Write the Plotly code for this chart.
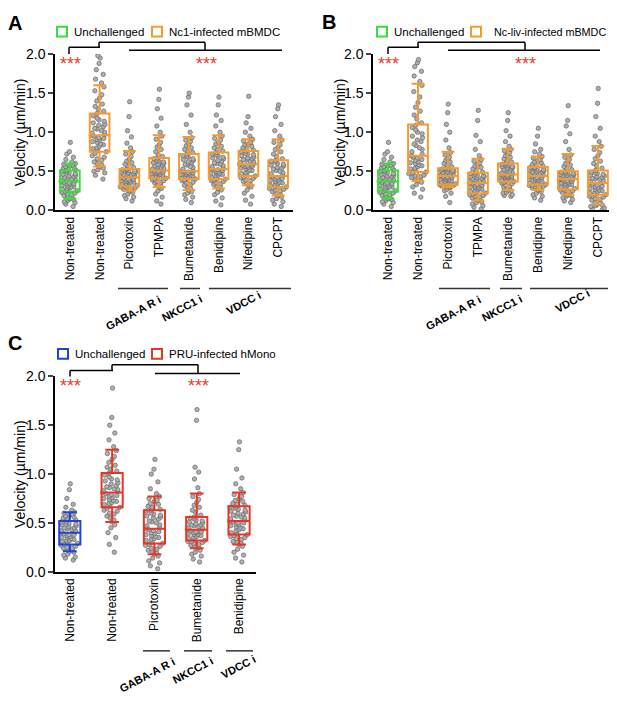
import plotly.graph_objects as go

# the page keeps an 8px body margin, so the figure is 16px smaller than the window
PAGE_W, PAGE_H, PAD = 617, 702, 8
W, H = PAGE_W - 2 * PAD, PAGE_H - 2 * PAD
FONT = "Arial, Liberation Sans, sans-serif"

GREEN = "#35e035"
ORANGE = "#f59a2d"
BLUE = "#1f44dd"
RED = "#ec3424"
STAR = "#e8402c"

### category labels
a_labels = ["Non-treated", "Non-treated", "Picrotoxin", "TPMPA", "Bumetanide",
            "Benidipine", "Nifedipine", "CPCPT"]
b_labels = a_labels
c_labels = ["Non-treated", "Non-treated", "Picrotoxin", "Bumetanide", "Benidipine"]

### box stats (lower whisker, q1, median, q3, upper whisker)
a_lo = [0.15, 0.56, 0.25, 0.30, 0.26, 0.28, 0.32, 0.19]
a_q1 = [0.24, 0.75, 0.31, 0.41, 0.40, 0.40, 0.44, 0.30]
a_med = [0.37, 0.96, 0.42, 0.51, 0.50, 0.53, 0.59, 0.44]
a_q3 = [0.51, 1.24, 0.53, 0.67, 0.72, 0.74, 0.76, 0.64]
a_hi = [0.60, 1.60, 0.76, 0.96, 0.94, 0.96, 0.91, 0.91]

b_lo = [0.15, 0.375, 0.30, 0.125, 0.26, 0.26, 0.20, 0.08]
b_q1 = [0.24, 0.49, 0.33, 0.22, 0.37, 0.33, 0.27, 0.20]
b_med = [0.37, 0.70, 0.44, 0.35, 0.46, 0.44, 0.40, 0.35]
b_q3 = [0.51, 1.10, 0.54, 0.48, 0.60, 0.555, 0.50, 0.51]
b_hi = [0.60, 1.62, 0.75, 0.66, 0.79, 0.69, 0.72, 0.825]

c_lo = [0.21, 0.51, 0.18, 0.24, 0.28]
c_q1 = [0.28, 0.66, 0.29, 0.32, 0.38]
c_med = [0.40, 0.81, 0.44, 0.43, 0.52]
c_q3 = [0.52, 1.01, 0.63, 0.56, 0.67]
c_hi = [0.61, 1.25, 0.77, 0.80, 0.81]

### single cell velocities (um/min), estimated from the dots
unch_mbmdc = [0.05, 0.08, 0.10, 0.11, 0.13, 0.14, 0.15, 0.16, 0.18, 0.19, 0.20, 0.21, 0.22, 0.23, 0.24,
              0.25, 0.26, 0.27, 0.28, 0.29, 0.30, 0.30, 0.31, 0.32, 0.33, 0.34, 0.34, 0.35, 0.36, 0.37,
              0.38, 0.39, 0.40, 0.40, 0.41, 0.42, 0.43, 0.44, 0.45, 0.46, 0.47, 0.48, 0.49, 0.50, 0.51,
              0.52, 0.53, 0.54, 0.55, 0.56, 0.57, 0.58, 0.59, 0.60, 0.62, 0.65, 0.68, 0.72, 0.75, 0.87]

nc1_nontreated = [0.40, 0.45, 0.48, 0.50, 0.52, 0.54, 0.56, 0.58, 0.60, 0.62, 0.64, 0.66, 0.68, 0.70, 0.73,
                  0.75, 0.77, 0.79, 0.80, 0.82, 0.84, 0.85, 0.87, 0.88, 0.90, 0.91, 0.92, 0.93, 0.95, 0.96,
                  0.97, 0.99, 1.00, 1.02, 1.04, 1.05, 1.07, 1.09, 1.10, 1.12, 1.14, 1.16, 1.18, 1.21, 1.24,
                  1.27, 1.30, 1.33, 1.36, 1.40, 1.44, 1.48, 1.53, 1.58, 1.63, 1.68, 1.74, 1.80, 1.88, 1.95, 1.98]
nc1_picrotoxin = [0.12, 0.15, 0.17, 0.19, 0.21, 0.23, 0.25, 0.26, 0.27, 0.27, 0.28, 0.29, 0.29, 0.30, 0.31,
                  0.32, 0.33, 0.33, 0.34, 0.35, 0.36, 0.36, 0.37, 0.38, 0.38, 0.39, 0.40, 0.40, 0.41, 0.42,
                  0.43, 0.44, 0.44, 0.45, 0.46, 0.46, 0.47, 0.48, 0.49, 0.49, 0.50, 0.51, 0.52, 0.52, 0.53,
                  0.55, 0.57, 0.59, 0.61, 0.63, 0.66, 0.69, 0.72, 0.75, 0.80, 0.86, 0.94, 1.02, 1.20, 1.39]
nc1_tpmpa = [0.08, 0.12, 0.17, 0.21, 0.25, 0.28, 0.30, 0.32, 0.33, 0.35, 0.36, 0.37, 0.38, 0.39, 0.40,
             0.41, 0.42, 0.43, 0.44, 0.45, 0.45, 0.46, 0.47, 0.47, 0.48, 0.49, 0.49, 0.50, 0.50, 0.51,
             0.52, 0.53, 0.54, 0.55, 0.56, 0.57, 0.58, 0.59, 0.60, 0.61, 0.62, 0.63, 0.64, 0.66, 0.67,
             0.69, 0.72, 0.75, 0.78, 0.81, 0.84, 0.87, 0.91, 0.95, 1.00, 1.08, 1.18, 1.30, 1.42, 1.55]
nc1_bumetanide = [0.10, 0.14, 0.17, 0.20, 0.22, 0.24, 0.26, 0.28, 0.30, 0.32, 0.33, 0.35, 0.36, 0.38, 0.39,
                  0.40, 0.41, 0.42, 0.43, 0.43, 0.44, 0.45, 0.46, 0.46, 0.47, 0.48, 0.48, 0.49, 0.50, 0.50,
                  0.51, 0.53, 0.55, 0.56, 0.58, 0.59, 0.61, 0.62, 0.64, 0.65, 0.66, 0.68, 0.69, 0.70, 0.72,
                  0.74, 0.76, 0.78, 0.80, 0.83, 0.85, 0.88, 0.90, 0.93, 1.00, 1.10, 1.22, 1.35, 1.45, 1.50]
nc1_benidipine = [0.07, 0.12, 0.16, 0.20, 0.23, 0.26, 0.28, 0.30, 0.31, 0.33, 0.34, 0.35, 0.37, 0.38, 0.39,
                  0.40, 0.41, 0.42, 0.44, 0.45, 0.46, 0.47, 0.48, 0.48, 0.49, 0.50, 0.51, 0.52, 0.52, 0.53,
                  0.54, 0.56, 0.57, 0.59, 0.60, 0.61, 0.63, 0.64, 0.66, 0.67, 0.68, 0.70, 0.71, 0.72, 0.74,
                  0.76, 0.78, 0.80, 0.82, 0.85, 0.87, 0.90, 0.92, 0.95, 1.00, 1.08, 1.15, 1.22, 1.35, 1.45]
nc1_nifedipine = [0.08, 0.13, 0.18, 0.22, 0.26, 0.30, 0.32, 0.34, 0.35, 0.37, 0.38, 0.39, 0.41, 0.42, 0.43,
                  0.44, 0.46, 0.47, 0.48, 0.50, 0.51, 0.52, 0.53, 0.54, 0.55, 0.56, 0.57, 0.57, 0.58, 0.59,
                  0.60, 0.61, 0.62, 0.63, 0.64, 0.65, 0.66, 0.67, 0.68, 0.70, 0.71, 0.72, 0.73, 0.75, 0.76,
                  0.77, 0.79, 0.80, 0.82, 0.84, 0.85, 0.87, 0.89, 0.91, 0.95, 1.00, 1.05, 1.12, 1.20, 1.46]
nc1_cpcpt = [0.05, 0.08, 0.11, 0.13, 0.15, 0.17, 0.19, 0.21, 0.22, 0.24, 0.25, 0.26, 0.27, 0.28, 0.29,
             0.30, 0.31, 0.32, 0.33, 0.34, 0.35, 0.36, 0.37, 0.38, 0.39, 0.40, 0.41, 0.42, 0.43, 0.44,
             0.45, 0.47, 0.48, 0.50, 0.51, 0.53, 0.54, 0.55, 0.57, 0.58, 0.59, 0.60, 0.62, 0.63, 0.64,
             0.66, 0.69, 0.72, 0.75, 0.78, 0.81, 0.84, 0.87, 0.90, 0.95, 1.02, 1.10, 1.20, 1.30, 1.35]

ncliv_nontreated = [0.17, 0.22, 0.27, 0.30, 0.33, 0.36, 0.38, 0.40, 0.41, 0.42, 0.43, 0.44, 0.45, 0.47, 0.48,
                    0.49, 0.51, 0.53, 0.54, 0.56, 0.57, 0.58, 0.60, 0.61, 0.62, 0.64, 0.65, 0.67, 0.68, 0.70,
                    0.72, 0.75, 0.78, 0.80, 0.83, 0.85, 0.88, 0.90, 0.93, 0.95, 0.98, 1.00, 1.03, 1.06, 1.09,
                    1.12, 1.17, 1.22, 1.27, 1.32, 1.38, 1.45, 1.52, 1.60, 1.65, 1.72, 1.78, 1.84, 1.89, 1.93]
ncliv_picrotoxin = [0.10, 0.18, 0.22, 0.25, 0.27, 0.29, 0.30, 0.30, 0.31, 0.31, 0.32, 0.32, 0.32, 0.33, 0.33,
                    0.34, 0.35, 0.36, 0.37, 0.38, 0.38, 0.39, 0.40, 0.40, 0.41, 0.42, 0.42, 0.43, 0.43, 0.44,
                    0.45, 0.45, 0.46, 0.47, 0.47, 0.48, 0.49, 0.49, 0.50, 0.51, 0.51, 0.52, 0.53, 0.53, 0.54,
                    0.56, 0.58, 0.60, 0.62, 0.64, 0.66, 0.68, 0.71, 0.74, 0.80, 0.90, 1.00, 1.10, 1.25, 1.36]
ncliv_tpmpa = [0.02, 0.04, 0.06, 0.08, 0.10, 0.11, 0.13, 0.14, 0.15, 0.16, 0.17, 0.18, 0.19, 0.20, 0.21,
               0.22, 0.23, 0.24, 0.25, 0.26, 0.27, 0.28, 0.29, 0.30, 0.30, 0.31, 0.32, 0.33, 0.34, 0.35,
               0.36, 0.37, 0.38, 0.38, 0.39, 0.40, 0.41, 0.42, 0.43, 0.43, 0.44, 0.45, 0.46, 0.47, 0.48,
               0.49, 0.51, 0.53, 0.55, 0.57, 0.59, 0.61, 0.63, 0.65, 0.70, 0.78, 0.88, 0.96, 1.15, 1.28]
ncliv_bumetanide = [0.18, 0.19, 0.20, 0.22, 0.23, 0.25, 0.26, 0.28, 0.29, 0.30, 0.31, 0.32, 0.34, 0.35, 0.36,
                    0.37, 0.38, 0.39, 0.40, 0.40, 0.41, 0.42, 0.42, 0.43, 0.43, 0.44, 0.44, 0.45, 0.45, 0.46,
                    0.47, 0.48, 0.49, 0.50, 0.51, 0.52, 0.53, 0.54, 0.55, 0.56, 0.56, 0.57, 0.58, 0.59, 0.60,
                    0.62, 0.64, 0.66, 0.68, 0.70, 0.72, 0.74, 0.76, 0.78, 0.82, 0.88, 0.95, 1.02, 1.15, 1.25]
ncliv_benidipine = [0.13, 0.16, 0.18, 0.20, 0.22, 0.24, 0.26, 0.27, 0.28, 0.29, 0.29, 0.30, 0.31, 0.32, 0.32,
                    0.33, 0.34, 0.35, 0.36, 0.36, 0.37, 0.38, 0.39, 0.40, 0.40, 0.41, 0.42, 0.42, 0.43, 0.44,
                    0.45, 0.46, 0.46, 0.47, 0.48, 0.49, 0.49, 0.50, 0.51, 0.52, 0.52, 0.53, 0.54, 0.55, 0.55,
                    0.57, 0.58, 0.59, 0.61, 0.62, 0.64, 0.65, 0.67, 0.69, 0.72, 0.75, 0.78, 0.85, 0.95, 1.05]
ncliv_nifedipine = [0.10, 0.12, 0.14, 0.16, 0.18, 0.19, 0.20, 0.21, 0.22, 0.23, 0.24, 0.25, 0.25, 0.26, 0.27,
                    0.28, 0.29, 0.30, 0.31, 0.32, 0.33, 0.34, 0.34, 0.35, 0.36, 0.37, 0.37, 0.38, 0.39, 0.40,
                    0.40, 0.41, 0.42, 0.42, 0.43, 0.44, 0.44, 0.45, 0.46, 0.46, 0.47, 0.48, 0.48, 0.49, 0.50,
                    0.52, 0.54, 0.56, 0.58, 0.60, 0.63, 0.65, 0.68, 0.71, 0.78, 0.88, 0.98, 1.08, 1.15, 1.34]
ncliv_cpcpt = [0.01, 0.02, 0.03, 0.05, 0.06, 0.07, 0.08, 0.10, 0.11, 0.13, 0.14, 0.15, 0.17, 0.18, 0.19,
               0.20, 0.21, 0.22, 0.23, 0.24, 0.25, 0.26, 0.27, 0.28, 0.29, 0.30, 0.31, 0.32, 0.33, 0.35,
               0.36, 0.37, 0.38, 0.39, 0.40, 0.41, 0.42, 0.43, 0.44, 0.45, 0.46, 0.47, 0.48, 0.49, 0.51,
               0.54, 0.57, 0.60, 0.63, 0.66, 0.70, 0.74, 0.78, 0.82, 0.88, 0.95, 1.05, 1.20, 1.37, 1.56]

unch_hmono = [0.12, 0.14, 0.15, 0.17, 0.18, 0.20, 0.21, 0.22, 0.23, 0.24, 0.24, 0.25, 0.26, 0.27, 0.28,
              0.29, 0.30, 0.31, 0.32, 0.32, 0.33, 0.34, 0.35, 0.35, 0.36, 0.37, 0.38, 0.38, 0.39, 0.40,
              0.41, 0.42, 0.42, 0.43, 0.44, 0.45, 0.45, 0.46, 0.47, 0.48, 0.49, 0.49, 0.50, 0.51, 0.52,
              0.53, 0.54, 0.55, 0.56, 0.57, 0.58, 0.59, 0.60, 0.61, 0.63, 0.66, 0.69, 0.75, 0.84, 0.90]
pru_nontreated = [0.20, 0.28, 0.35, 0.40, 0.45, 0.48, 0.51, 0.53, 0.55, 0.57, 0.59, 0.60, 0.62, 0.63, 0.65,
                  0.66, 0.67, 0.69, 0.70, 0.71, 0.72, 0.73, 0.74, 0.75, 0.76, 0.77, 0.78, 0.79, 0.80, 0.81,
                  0.82, 0.83, 0.84, 0.85, 0.86, 0.87, 0.88, 0.90, 0.91, 0.93, 0.94, 0.95, 0.97, 0.99, 1.01,
                  1.03, 1.05, 1.07, 1.09, 1.12, 1.15, 1.18, 1.21, 1.24, 1.28, 1.35, 1.42, 1.50, 1.58, 1.88]
pru_picrotoxin = [0.03, 0.06, 0.09, 0.11, 0.14, 0.16, 0.18, 0.19, 0.21, 0.22, 0.23, 0.24, 0.26, 0.27, 0.28,
                  0.29, 0.30, 0.32, 0.33, 0.34, 0.35, 0.36, 0.37, 0.38, 0.39, 0.40, 0.41, 0.42, 0.43, 0.44,
                  0.45, 0.47, 0.48, 0.50, 0.51, 0.52, 0.54, 0.55, 0.56, 0.57, 0.58, 0.59, 0.60, 0.62, 0.63,
                  0.64, 0.66, 0.67, 0.69, 0.70, 0.72, 0.73, 0.75, 0.77, 0.80, 0.85, 0.92, 1.00, 1.05, 1.15]
pru_bumetanide = [0.10, 0.13, 0.16, 0.18, 0.20, 0.22, 0.24, 0.25, 0.26, 0.27, 0.28, 0.29, 0.30, 0.31, 0.31,
                  0.32, 0.33, 0.34, 0.35, 0.36, 0.37, 0.38, 0.38, 0.39, 0.40, 0.40, 0.41, 0.41, 0.42, 0.43,
                  0.44, 0.45, 0.45, 0.46, 0.47, 0.48, 0.48, 0.49, 0.50, 0.51, 0.52, 0.53, 0.54, 0.55, 0.56,
                  0.58, 0.61, 0.63, 0.66, 0.68, 0.71, 0.74, 0.77, 0.80, 0.86, 0.95, 1.02, 1.07, 1.55, 1.66]
pru_benidipine = [0.10, 0.14, 0.17, 0.20, 0.23, 0.26, 0.28, 0.29, 0.30, 0.31, 0.33, 0.34, 0.35, 0.36, 0.37,
                  0.38, 0.39, 0.40, 0.42, 0.43, 0.44, 0.45, 0.46, 0.47, 0.48, 0.49, 0.50, 0.50, 0.51, 0.52,
                  0.53, 0.54, 0.55, 0.56, 0.57, 0.58, 0.59, 0.60, 0.61, 0.62, 0.63, 0.64, 0.65, 0.66, 0.67,
                  0.68, 0.69, 0.70, 0.72, 0.73, 0.75, 0.77, 0.79, 0.81, 0.85, 0.90, 0.96, 1.05, 1.25, 1.33]

a_points = [unch_mbmdc, nc1_nontreated, nc1_picrotoxin, nc1_tpmpa, nc1_bumetanide,
            nc1_benidipine, nc1_nifedipine, nc1_cpcpt]
b_points = [unch_mbmdc, ncliv_nontreated, ncliv_picrotoxin, ncliv_tpmpa, ncliv_bumetanide,
            ncliv_benidipine, ncliv_nifedipine, ncliv_cpcpt]
c_points = [unch_hmono, pru_nontreated, pru_picrotoxin, pru_bumetanide, pru_benidipine]


## window pixel -> paper fraction
def px(x):
    return (x - PAD) / W


def py(y):
    return 1 - (y - PAD) / H


fig = go.Figure()


def add_panel(xa, ya, points, lo, q1, med, q3, hi, ctrl_col, inf_col, bw):
    n = len(points)
    # dots first, box drawn on top
    for i, vals in enumerate(points):
        fig.add_trace(go.Box(
            x=[i] * len(vals), y=vals, xaxis=xa, yaxis=ya,
            boxpoints="all", jitter=0.95, pointpos=0, width=bw,
            fillcolor="rgba(0,0,0,0)", line=dict(color="rgba(0,0,0,0)", width=0),
            marker=dict(color="#b0b0b0", size=4.4, line=dict(color="#666666", width=0.7)),
            showlegend=False, hoverinfo="skip"))
    for i in range(n):
        col = ctrl_col if i == 0 else inf_col
        fig.add_trace(go.Box(
            x=[i], q1=[q1[i]], median=[med[i]], q3=[q3[i]],
            lowerfence=[lo[i]], upperfence=[hi[i]], xaxis=xa, yaxis=ya,
            boxpoints=False, width=bw, whiskerwidth=0.65,
            fillcolor="rgba(0,0,0,0)", line=dict(color=col, width=2),
            showlegend=False))


add_panel("x", "y", a_points, a_lo, a_q1, a_med, a_q3, a_hi, GREEN, ORANGE, 0.66)
add_panel("x2", "y2", b_points, b_lo, b_q1, b_med, b_q3, b_hi, GREEN, ORANGE, 0.66)
add_panel("x3", "y3", c_points, c_lo, c_q1, c_med, c_q3, c_hi, BLUE, RED, 0.5)

yax = dict(range=[0, 2.0], tickvals=[0, 0.5, 1.0, 1.5, 2.0], tickformat=".1f",
           showline=True, linecolor="black", linewidth=1.5, ticks="outside",
           ticklen=5, tickwidth=1.5, showgrid=False, zeroline=False,
           tickfont=dict(family=FONT, size=14, color="black"))
xax = dict(showline=True, linecolor="black", linewidth=1.5, ticks="", showgrid=False,
           zeroline=False, tickangle=-90, tickfont=dict(family=FONT, size=12, color="black"))

fig.update_layout(
    width=W, height=H, margin=dict(l=0, r=0, t=0, b=0),
    paper_bgcolor="white", plot_bgcolor="white", boxmode="overlay", showlegend=False,
    xaxis=dict(xax, domain=[px(55), px(293)], range=[-0.5, 7.5],
               tickvals=list(range(8)), ticktext=a_labels, anchor="y"),
    yaxis=dict(yax, domain=[py(207), py(47)], anchor="x"),
    # panel B runs to the right edge of the figure
    xaxis2=dict(xax, domain=[px(373), 1.0], range=[-0.5, 7.37],
                tickvals=list(range(8)), ticktext=b_labels, anchor="y2"),
    yaxis2=dict(yax, domain=[py(207), py(47)], anchor="x2"),
    xaxis3=dict(xax, domain=[px(55), px(256)], range=[-0.35, 4.4],
                tickvals=list(range(5)), ticktext=c_labels, anchor="y3"),
    yaxis3=dict(yax, domain=[py(577), py(377)], anchor="x3"),
)

shapes = []
annos = []


def seg(x0, y0, x1, y1, color="black", w=1.5):
    shapes.append(dict(type="line", xref="paper", yref="paper",
                       x0=px(x0), y0=py(y0), x1=px(x1), y1=py(y1),
                       line=dict(color=color, width=w)))


def text(x, y, s, size, color="black", bold=False, angle=0, xanchor="center"):
    annos.append(dict(xref="paper", yref="paper", x=px(x), y=py(y), text=s,
                      showarrow=False, textangle=angle, xanchor=xanchor, yanchor="middle",
                      font=dict(family=FONT, size=size, color=color,
                                weight="bold" if bold else "normal")))


def legend_box(x, y, color):
    shapes.append(dict(type="rect", xref="paper", yref="paper",
                       x0=px(x - 5), x1=px(x + 5), y0=py(y + 5), y1=py(y - 5),
                       line=dict(color=color, width=2), fillcolor="rgba(0,0,0,0)"))


# significance brackets
seg(69, 47, 69, 40); seg(69, 40, 100, 40); seg(99, 40, 99, 35)
seg(99, 35, 205, 35); seg(205, 35, 205, 43); seg(129, 43, 282, 43)
seg(388, 47, 388, 40); seg(388, 40, 419, 40); seg(418, 40, 418, 35)
seg(418, 35, 525, 35); seg(525, 35, 525, 43); seg(448, 43, 600, 43)
seg(70, 377, 70, 371); seg(70, 371, 113, 371); seg(112, 371, 112, 365)
seg(112, 365, 198, 365); seg(198, 365, 198, 374); seg(155, 374, 240, 374)

for x, y in [(70, 57), (206, 57), (388, 57), (525, 57), (70, 387), (198, 387)]:
    text(x, y, "***", 18, color=STAR)

# drug class lines and labels
for x0, x1 in [(118, 168), (180, 200), (209, 291), (439, 490), (500, 522), (530, 608)]:
    seg(x0, 287, x1, 287, color="#333333")
for x0, x1 in [(143, 170), (184, 212), (226, 253)]:
    seg(x0, 658, x1, 658, color="#333333")

for (x, y, s) in [(133, 312, "GABA-A R i"), (182, 307, "NKCC1 i"), (243, 302, "VDCC i"),
                  (453, 312, "GABA-A R i"), (502, 307, "NKCC1 i"), (572, 300, "VDCC i"),
                  (147, 683, "GABA-A R i"), (193, 678, "NKCC1 i"), (238, 675, "VDCC i")]:
    text(x, y, s, 11, bold=True, angle=-28)

# legends
legend_box(62, 24, GREEN); text(72, 24, "Unchallenged", 11.5, xanchor="left")
legend_box(157, 24, ORANGE); text(167, 24, "Nc1-infected mBMDC", 11.5, xanchor="left")
legend_box(382, 24, GREEN); text(392, 24, "Unchallenged", 11.5, xanchor="left")
legend_box(476, 24, ORANGE); text(608, 24, "Nc-liv-infected mBMDC", 10.8, xanchor="right")
legend_box(63, 354, BLUE); text(73, 354, "Unchallenged", 11.5, xanchor="left")
legend_box(157, 354, RED); text(167, 354, "PRU-infected hMono", 11.5, xanchor="left")

# y titles and panel letters
text(20, 127, "Velocity (µm/min)", 14, angle=-90)
text(340, 127, "Velocity (µm/min)", 14, angle=-90)
text(20, 477, "Velocity (µm/min)", 14, angle=-90)
text(15, 15, "A", 20, bold=True)
text(329, 14, "B", 20, bold=True)
text(15, 343, "C", 20, bold=True)

fig.update_layout(shapes=shapes, annotations=annos)
fig.write_html("out.html", config={"displayModeBar": False})
